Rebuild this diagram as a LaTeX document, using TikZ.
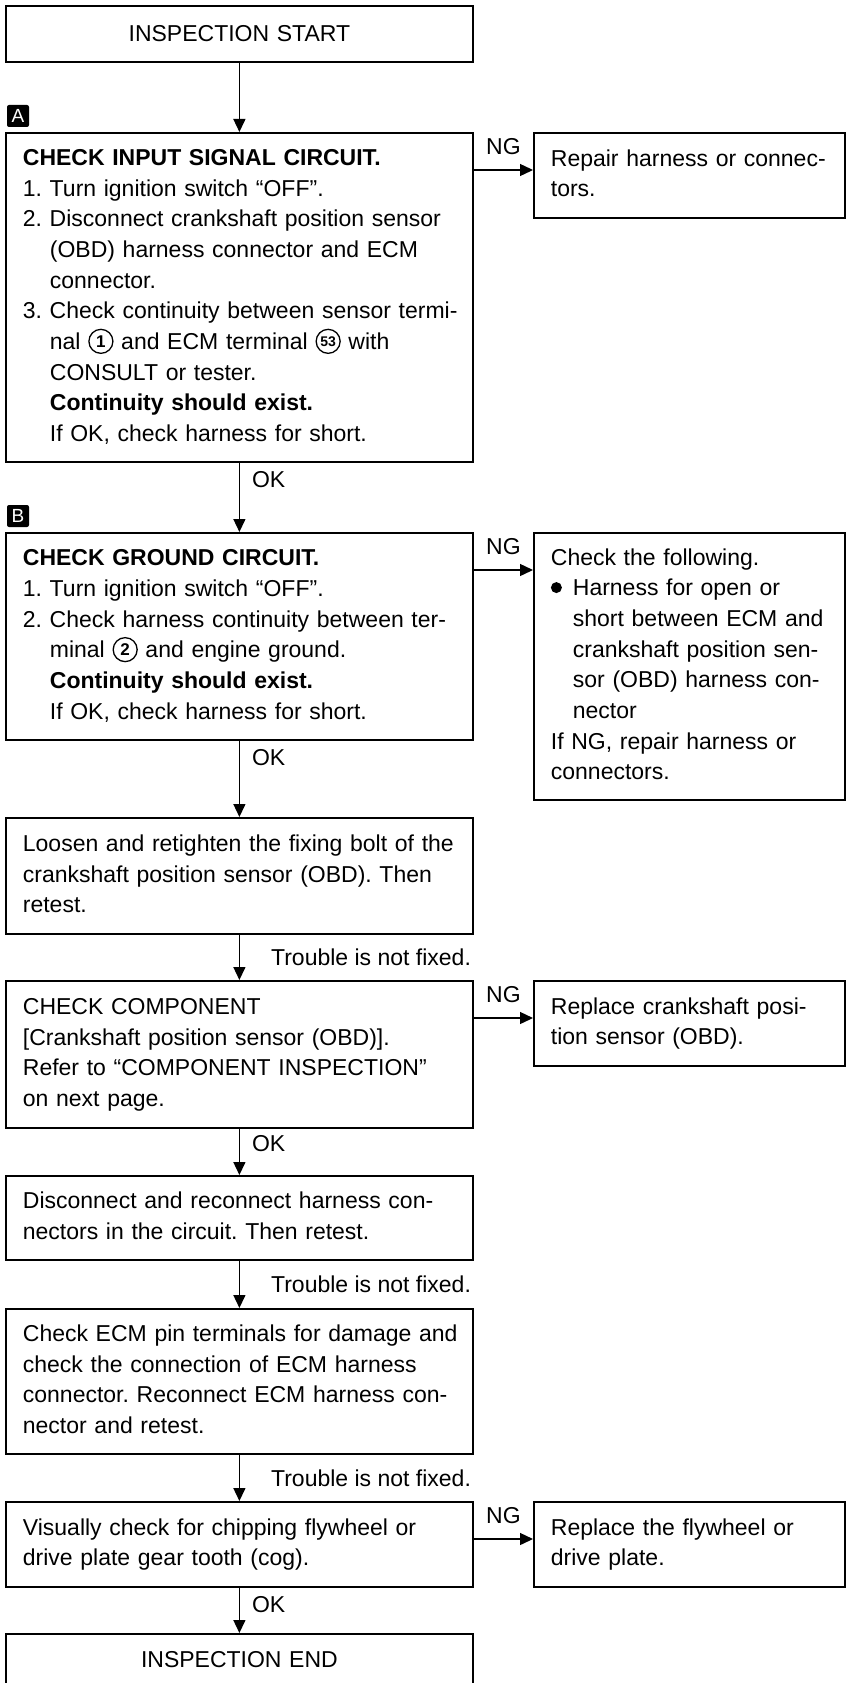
\documentclass[tikz,border=0pt]{standalone}
\usepackage{fontspec}
\setmainfont{Liberation Sans}
\usetikzlibrary{arrows.meta,calc}
\frenchspacing
\newcommand{\cnum}[2][17]{\raisebox{-4.4pt}{\tikz\node[circle, draw, line width=1.3pt, inner sep=0pt,
  minimum size=24pt, font=\fontsize{#1}{#1}\selectfont\bfseries] {#2};}}
\newcommand{\bigdot}{\makebox[22pt][l]{\raisebox{2.7pt}{\tikz\fill (0,0) circle (5.5pt);}}}
\newcommand{\indline}{\hspace*{27pt}}
\newcommand{\rows}[1]{\begin{tabular}{@{}l@{}}#1\end{tabular}}

\begin{document}
\begin{tikzpicture}[x=1pt, y=-1pt,
  every node/.style={font=\fontsize{23}{30.7}\selectfont},
  mainbox/.style={draw, line width=1.8pt, anchor=north west, inner xsep=17pt, inner ysep=0pt,
    text width=433pt, align=left, minimum height=#1},
  sidebox/.style={draw, line width=1.8pt, anchor=north west, inner xsep=17pt, inner ysep=0pt,
    text width=277pt, align=left, minimum height=#1},
  endbox/.style={mainbox=#1, align=center},
  tag/.style={fill=black, text=white, inner sep=0pt, minimum size=22pt, rounded corners=2pt,
    font=\fontsize{19}{19}\selectfont},
  arr/.style={line width=1.4pt, -{Triangle[length=13pt, width=12pt]}},
  oklbl/.style={anchor=west, inner sep=2pt, xshift=10pt},
  trouble/.style={anchor=west, inner sep=2pt, xshift=29pt},
  nglbl/.style={above=13pt, inner sep=2pt}]
  \useasboundingbox (0,0) rectangle (846,1683);
  % Start
  \node[endbox=56pt] (start) at (5,5) {INSPECTION START};
  % A: input signal circuit
  \node[tag] (tagA) at (18,116) {A};
  \node[mainbox=329pt] (chkinput) at (5,132) {\rows{{\bfseries CHECK INPUT SIGNAL CIRCUIT.}\\
    1. Turn ignition switch “OFF”.\\
    2. Disconnect crankshaft position sensor\\
    \indline(OBD) harness connector and ECM\\
    \indline connector.\\
    3. Check continuity between sensor termi-\\
    \indline nal \cnum{1} and ECM terminal \cnum[14]{53} with\\
    \indline CONSULT or tester.\\
    \indline{\bfseries Continuity should exist.}\\
    \indline If OK, check harness for short.}};
  \node[sidebox=85pt] (repair) at (533,132) {\rows{Repair harness or connec-\\tors.}};
  % B: ground circuit
  \node[tag] (tagB) at (18,516) {B};
  \node[mainbox=207pt] (chkground) at (5,532) {\rows{{\bfseries CHECK GROUND CIRCUIT.}\\
    1. Turn ignition switch “OFF”.\\
    2. Check harness continuity between ter-\\
    \indline minal \cnum{2} and engine ground.\\
    \indline{\bfseries Continuity should exist.}\\
    \indline If OK, check harness for short.}};
  \node[sidebox=267pt] (following) at (533,532) {\rows{Check the following.\\
    \bigdot Harness for open or\\
    \hspace*{22pt}short between ECM and\\
    \hspace*{22pt}crankshaft position sen-\\
    \hspace*{22pt}sor (OBD) harness con-\\
    \hspace*{22pt}nector\\
    If NG, repair harness or\\
    connectors.}};
  % Sensor bolt, component
  \node[mainbox=116pt] (retighten) at (5,817) {\rows{Loosen and retighten the fixing bolt of the\\
    crankshaft position sensor (OBD). Then\\
    retest.}};
  \node[mainbox=147pt] (component) at (5,980) {\rows{CHECK COMPONENT\\{}[Crankshaft position sensor (OBD)].\\
    Refer to “COMPONENT INSPECTION”\\
    on next page.}};
  \node[sidebox=85pt] (replsensor) at (533,980) {\rows{Replace crankshaft posi-\\tion sensor (OBD).}};
  % Connectors
  \node[mainbox=84pt] (reconnect) at (5,1175) {\rows{Disconnect and reconnect harness con-\\
    nectors in the circuit. Then retest.}};
  \node[mainbox=145pt] (ecmpins) at (5,1308) {\rows{Check ECM pin terminals for damage and\\
    check the connection of ECM harness\\
    connector. Reconnect ECM harness con-\\
    nector and retest.}};
  % Flywheel
  \node[mainbox=85pt] (flywheel) at (5,1501) {\rows{Visually check for chipping flywheel or\\
    drive plate gear tooth (cog).}};
  \node[sidebox=85pt] (replplate) at (533,1501) {\rows{Replace the flywheel or\\drive plate.}};
  % End
  \node[endbox=52pt] (finish) at (5,1633) {INSPECTION END};
  % Main flow
  \draw[arr] (start) -- (chkinput);
  \draw[arr] (chkinput) -- node[oklbl, pos=0.24] {OK} (chkground);
  \draw[arr] (chkground) -- node[oklbl, pos=0.22] {OK} (retighten);
  \draw[arr] (retighten) -- node[trouble, pos=0.5] {Trouble is not fixed.} (component);
  \draw[arr] (component) -- node[oklbl, pos=0.33] {OK} (reconnect);
  \draw[arr] (reconnect) -- node[trouble, pos=0.5] {Trouble is not fixed.} (ecmpins);
  \draw[arr] (ecmpins) -- node[trouble, pos=0.5] {Trouble is not fixed.} (flywheel);
  \draw[arr] (flywheel) -- node[oklbl, pos=0.36] {OK} (finish);
  % NG branches
  \draw[arr] ([yshift=-38pt]chkinput.north east) -- node[nglbl] {NG} ([yshift=-38pt]repair.north west);
  \draw[arr] ([yshift=-38pt]chkground.north east) -- node[nglbl] {NG} ([yshift=-38pt]following.north west);
  \draw[arr] ([yshift=-38pt]component.north east) -- node[nglbl] {NG} ([yshift=-38pt]replsensor.north west);
  \draw[arr] ([yshift=-38pt]flywheel.north east) -- node[nglbl] {NG} ([yshift=-38pt]replplate.north west);
\end{tikzpicture}
\end{document}
